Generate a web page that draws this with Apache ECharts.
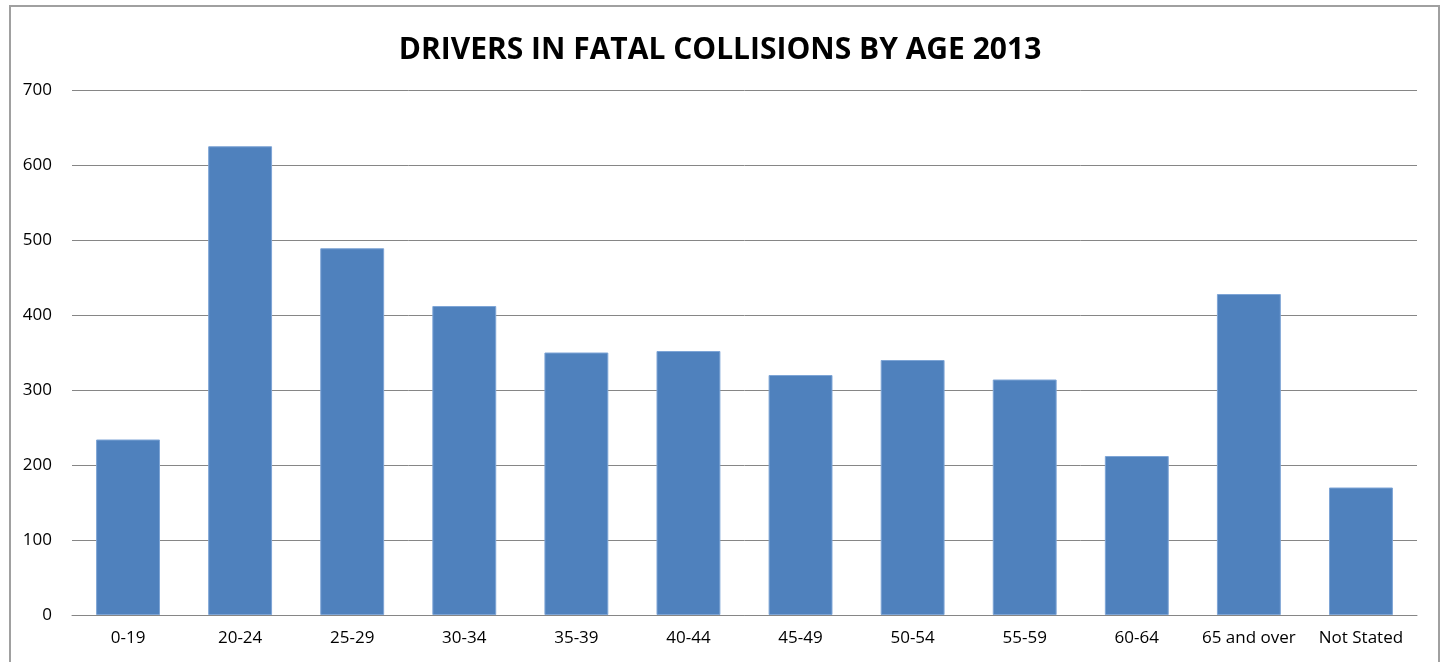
<!DOCTYPE html>
<html>
<head>
<meta charset="utf-8">
<script src="https://cdn.jsdelivr.net/npm/echarts@6/dist/echarts.min.js"></script>
<style>
html, body { margin: 0; padding: 0; background: #fff; }
#chart { width: 1440px; height: 662px; }
</style>
</head>
<body>
<div id="chart"></div>
<script>
var categories = ['0-19', '20-24', '25-29', '30-34', '35-39', '40-44', '45-49', '50-54', '55-59', '60-64', '65 and over', 'Not Stated'];
var drivers = [234, 625, 489, 412, 350, 352, 320, 340, 314, 212, 428, 170];
var yTicks = { min: 0, max: 700, interval: 100 };

var chart = echarts.init(document.getElementById('chart'));
chart.setOption({
    animation: false,
    title: {
        text: 'DRIVERS IN FATAL COLLISIONS BY AGE 2013',
        left: 'center',
        top: 30,
        textStyle: { fontFamily: 'Open Sans', fontWeight: 'bold', fontSize: 30, color: '#000' }
    },
    graphic: [{
        type: 'rect',
        shape: { x: 10, y: 6, width: 1429, height: 700 },
        style: { fill: 'none', stroke: '#a0a0a0', lineWidth: 2 },
        silent: true
    }],
    grid: { left: 72, right: 23, top: 90, bottom: 47 },
    xAxis: {
        type: 'category',
        data: categories,
        axisTick: { show: false },
        axisLine: { lineStyle: { color: '#868686', width: 1 } },
        axisLabel: { interval: 0, hideOverlap: false, color: '#000', fontFamily: 'Open Sans', fontSize: 17, margin: 15 }
    },
    yAxis: {
        type: 'value',
        min: yTicks.min,
        max: yTicks.max,
        interval: yTicks.interval,
        axisLine: { show: false },
        axisTick: { show: false },
        splitLine: { lineStyle: { color: '#868686', width: 1 } },
        axisLabel: { color: '#000', fontFamily: 'Open Sans', fontSize: 17, margin: 20 }
    },
    series: [{
        type: 'bar',
        data: drivers,
        barWidth: '57%',
        itemStyle: { color: '#4f81bd', borderColor: '#7ea5d6', borderWidth: 1 }
    }]
});
</script>
</body>
</html>
